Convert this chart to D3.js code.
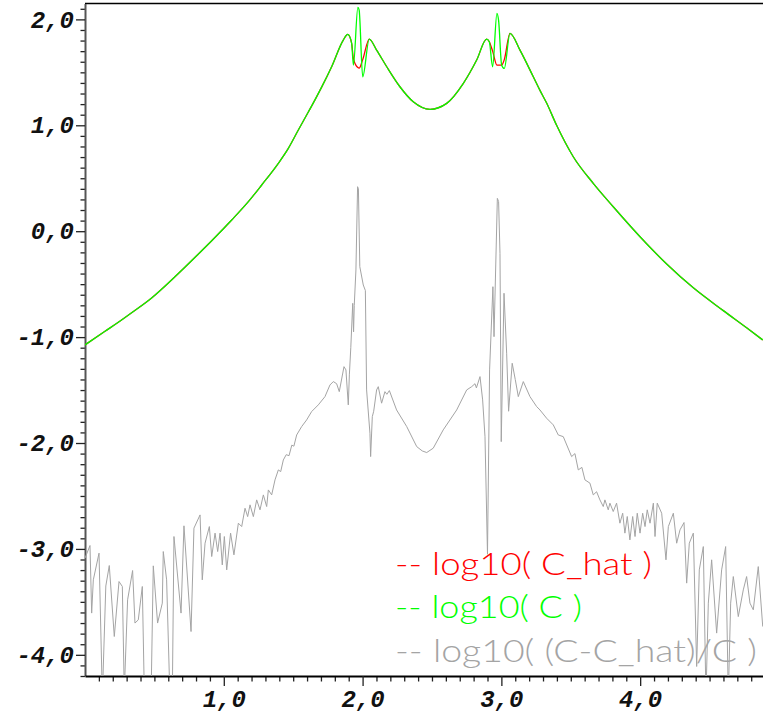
<!DOCTYPE html>
<html>
<head>
<meta charset="utf-8">
<script src="https://cdn.jsdelivr.net/npm/d3@7"></script>
<style>
  html, body { margin: 0; padding: 0; background: #fff; }
  svg { display: block; }
  .tick text {
    font-family: "Liberation Mono", "Courier New", monospace;
    font-weight: bold; font-style: italic; font-size: 24px; fill: #111;
  }
  .legend text { font-family: Lato, "Open Sans", sans-serif; font-weight: 300; font-size: 31px; }
</style>
</head>
<body>
<svg id="chart" width="763" height="715"></svg>
<script>
// Axis ticks and their labels
const xTicks = [1, 2, 3, 4];
const xTickLabels = ["1,0", "2,0", "3,0", "4,0"];
const yTicks = [-4, -3, -2, -1, 0, 1, 2];
const yTickLabels = ["-4,0", "-3,0", "-2,0", "-1,0", "0,0", "1,0", "2,0"];

// log10(C) and log10(C_hat) share one abscissa grid
const curveX = [0.000, 0.144, 0.240, 0.336, 0.480, 0.648, 0.817, 0.913, 1.057, 1.177,
  1.273, 1.393, 1.465, 1.537, 1.609, 1.657, 1.705, 1.777, 1.861, 1.893,
  1.921, 1.934, 1.966, 1.975, 2.001, 2.048, 2.101, 2.174, 2.269, 2.365,
  2.486, 2.606, 2.726, 2.822, 2.894, 2.913, 2.937, 2.968, 2.980, 3.002,
  3.021, 3.062, 3.134, 3.230, 3.278, 3.326, 3.398, 3.518, 3.662, 3.806,
  3.999, 4.191, 4.383, 4.599, 4.767, 4.883];
const logC = [-1.074, -0.945, -0.860, -0.770, -0.630, -0.430, -0.215, -0.090, 0.106, 0.279,
  0.436, 0.641, 0.782, 0.955, 1.125, 1.240, 1.360, 1.553, 1.805, 1.858,
  1.776, 1.569, 2.113, 2.090, 1.458, 1.814, 1.710, 1.553, 1.364, 1.222,
  1.151, 1.207, 1.396, 1.616, 1.814, 1.789, 1.553, 2.057, 1.990, 1.568,
  1.537, 1.868, 1.710, 1.458, 1.330, 1.210, 1.000, 0.703, 0.452, 0.231,
  -0.052, -0.310, -0.535, -0.750, -0.912, -1.027];
const logChat = [-1.074, -0.945, -0.860, -0.770, -0.630, -0.430, -0.215, -0.090, 0.106, 0.279,
  0.436, 0.641, 0.782, 0.955, 1.125, 1.240, 1.360, 1.553, 1.805, 1.858,
  1.776, 1.630, 1.545, 1.540, 1.620, 1.814, 1.710, 1.553, 1.364, 1.222,
  1.151, 1.207, 1.396, 1.616, 1.814, 1.789, 1.700, 1.568, 1.568, 1.568,
  1.620, 1.868, 1.710, 1.458, 1.330, 1.210, 1.000, 0.703, 0.452, 0.231,
  -0.052, -0.310, -0.535, -0.750, -0.912, -1.027];

// log10 of the relative error (C - C_hat) / C
const errX = [0.000, 0.036, 0.048, 0.060, 0.101, 0.125, 0.150, 0.175, 0.211, 0.245,
  0.269, 0.283, 0.307, 0.343, 0.360, 0.384, 0.413, 0.428, 0.476, 0.492,
  0.523, 0.557, 0.564, 0.588, 0.612, 0.629, 0.641, 0.692, 0.713, 0.764,
  0.785, 0.829, 0.845, 0.865, 0.896, 0.913, 0.937, 0.956, 0.973, 0.989,
  1.004, 1.021, 1.049, 1.073, 1.105, 1.129, 1.153, 1.172, 1.189, 1.213,
  1.237, 1.261, 1.285, 1.309, 1.321, 1.345, 1.369, 1.393, 1.410, 1.429,
  1.450, 1.470, 1.490, 1.505, 1.525, 1.561, 1.597, 1.633, 1.681, 1.729,
  1.765, 1.789, 1.813, 1.832, 1.866, 1.880, 1.897, 1.905, 1.915, 1.929,
  1.935, 1.940, 1.952, 1.964, 1.970, 1.980, 2.005, 2.020, 2.029, 2.053,
  2.058, 2.070, 2.080, 2.101, 2.113, 2.137, 2.161, 2.175, 2.193, 2.245,
  2.318, 2.390, 2.430, 2.462, 2.509, 2.581, 2.678, 2.750, 2.786, 2.810,
  2.820, 2.846, 2.865, 2.882, 2.900, 2.915, 2.939, 2.947, 2.971, 2.980,
  2.990, 2.999, 3.019, 3.038, 3.052, 3.078, 3.100, 3.122, 3.158, 3.206,
  3.254, 3.278, 3.326, 3.374, 3.410, 3.446, 3.506, 3.530, 3.554, 3.580,
  3.602, 3.638, 3.662, 3.686, 3.710, 3.734, 3.746, 3.770, 3.782, 3.806,
  3.830, 3.854, 3.874, 3.890, 3.907, 3.926, 3.946, 3.963, 3.979, 3.999,
  4.018, 4.035, 4.051, 4.071, 4.095, 4.107, 4.123, 4.155, 4.186, 4.203,
  4.239, 4.263, 4.287, 4.316, 4.335, 4.354, 4.383, 4.407, 4.426, 4.455,
  4.474, 4.491, 4.515, 4.551, 4.587, 4.616, 4.635, 4.652, 4.671, 4.707,
  4.743, 4.767, 4.791, 4.815, 4.851, 4.883];
const logErr = [-3.087, -2.968, -3.606, -3.292, -3.040, -4.400, -3.350, -3.157, -3.827, -3.308,
  -3.355, -4.350, -3.481, -3.204, -3.700, -3.670, -3.355, -4.400, -4.400, -3.160,
  -3.700, -3.512, -3.025, -3.292, -4.400, -4.400, -2.883, -3.606, -2.782, -3.780,
  -2.804, -2.679, -3.292, -2.946, -2.789, -3.072, -2.851, -3.025, -2.851, -3.151,
  -2.883, -3.198, -2.851, -3.056, -2.757, -2.789, -2.616, -2.695, -2.584, -2.695,
  -2.537, -2.631, -2.490, -2.600, -2.443, -2.490, -2.348, -2.254, -2.270, -2.160,
  -2.110, -2.120, -2.020, -2.030, -1.924, -1.845, -1.782, -1.703, -1.640, -1.562,
  -1.452, -1.420, -1.440, -1.515, -1.279, -1.310, -1.640, -1.350, -1.100, -0.681,
  -0.950, -0.700, -0.366, 0.420, 0.400, -0.335, -0.508, -0.560, -1.499, -1.908,
  -2.128, -1.751, -1.700, -1.499, -1.468, -1.624, -1.515, -1.540, -1.505, -1.688,
  -1.845, -2.034, -2.075, -2.090, -2.049, -1.876, -1.688, -1.499, -1.468, -1.440,
  -1.480, -1.373, -1.593, -1.940, -3.050, -1.310, -0.524, -0.996, 0.310, 0.280,
  -0.209, -1.987, -0.586, -1.152, -1.700, -1.247, -1.400, -1.562, -1.420, -1.562,
  -1.656, -1.688, -1.766, -1.829, -1.924, -1.940, -2.128, -2.100, -2.254, -2.230,
  -2.348, -2.379, -2.490, -2.460, -2.537, -2.600, -2.537, -2.631, -2.568, -2.647,
  -2.568, -2.757, -2.663, -2.851, -2.694, -2.915, -2.694, -2.883, -2.663, -2.851,
  -2.663, -2.789, -2.631, -2.757, -2.568, -2.883, -2.568, -2.663, -3.103, -2.789,
  -2.663, -2.946, -2.820, -2.751, -3.323, -2.946, -2.851, -4.110, -3.198, -2.978,
  -4.400, -3.512, -3.103, -3.795, -3.198, -2.978, -4.400, -3.512, -3.261, -3.639,
  -3.387, -3.261, -3.512, -3.575, -3.167, -3.733];

const legendLabels = ["-- log10( C_hat )", "-- log10( C )", "-- log10( (C-C_hat)/C )"];
const legendColors = ["#ff0000", "#00ff00", "#a4a4a4"];

const svg = d3.select("#chart");
svg.append("rect").attr("width", 763).attr("height", 715).attr("fill", "#fff");

const x = d3.scaleLinear().domain([0, 4.885]).range([85, 763]);
const y = d3.scaleLinear().domain([-4.2, 2.15]).range([676, 3.5]);

svg.append("clipPath").attr("id", "plot-clip")
  .append("rect").attr("x", 85).attr("y", 3.5).attr("width", 678).attr("height", 672.5);

// frame line along the top edge
svg.append("line").attr("x1", 85).attr("x2", 763).attr("y1", 3.5).attr("y2", 3.5)
  .attr("stroke", "#000").attr("stroke-width", 1.5);

// minor ticks every 0.1
const minorY = d3.range(-42, 22).map(v => v / 10).filter(v => !yTicks.includes(v));
const minorX = d3.range(1, 49).map(v => v / 10).filter(v => !xTicks.includes(v));

svg.append("g").attr("transform", "translate(85,0)")
  .call(d3.axisLeft(y).tickValues(minorY).tickSize(4.5).tickSizeOuter(0).tickFormat(""))
  .call(g => g.select(".domain").remove())
  .call(g => g.selectAll("line").attr("stroke", "#222").attr("stroke-width", 1.3));

svg.append("g").attr("transform", "translate(0,676)")
  .call(d3.axisBottom(x).tickValues(minorX).tickSize(5.5).tickSizeOuter(0).tickFormat(""))
  .call(g => g.select(".domain").remove())
  .call(g => g.selectAll("line").attr("stroke", "#222").attr("stroke-width", 1.3));

// major axes with labels
svg.append("g").attr("transform", "translate(85,0)")
  .call(d3.axisLeft(y).tickValues(yTicks).tickSize(9).tickSizeOuter(0).tickPadding(2)
    .tickFormat((d, i) => yTickLabels[i]))
  .call(g => g.select(".domain").attr("stroke", "#555").attr("stroke-width", 2))
  .call(g => g.selectAll("line").attr("stroke", "#222").attr("stroke-width", 1.3))
  .call(g => g.selectAll("text").attr("dy", "0.32em"));

svg.append("g").attr("transform", "translate(0,676)")
  .call(d3.axisBottom(x).tickValues(xTicks).tickSize(10).tickSizeOuter(0)
    .tickFormat((d, i) => xTickLabels[i]))
  .call(g => g.select(".domain").attr("stroke", "#000").attr("stroke-width", 2))
  .call(g => g.selectAll("line").attr("stroke", "#222").attr("stroke-width", 1.3))
  .call(g => g.selectAll("text").attr("y", 31).attr("dy", 0));

const plot = svg.append("g").attr("clip-path", "url(#plot-clip)");

const smooth = d3.line().x(d => x(d[0])).y(d => y(d[1])).curve(d3.curveMonotoneX);
const jagged = d3.line().x(d => x(d[0])).y(d => y(d[1]));

plot.append("path").datum(errX.map((v, i) => [v, logErr[i]]))
  .attr("d", jagged).attr("fill", "none").attr("stroke", legendColors[2]).attr("stroke-width", 1);

plot.append("path").datum(curveX.map((v, i) => [v, logChat[i]]))
  .attr("d", smooth).attr("fill", "none").attr("stroke", legendColors[0]).attr("stroke-width", 1.3);

plot.append("path").datum(curveX.map((v, i) => [v, logC[i]]))
  .attr("d", smooth).attr("fill", "none").attr("stroke", legendColors[1]).attr("stroke-width", 1.3);

// legend
const legend = svg.append("g").attr("class", "legend");
const legendWidths = [257, 187, 362];
legendLabels.forEach((t, i) => {
  legend.append("text")
    .attr("x", 395).attr("y", 575 + i * 43.3)
    .attr("fill", legendColors[i])
    .attr("textLength", legendWidths[i])
    .attr("lengthAdjust", "spacingAndGlyphs")
    .text(t);
});
</script>
</body>
</html>
